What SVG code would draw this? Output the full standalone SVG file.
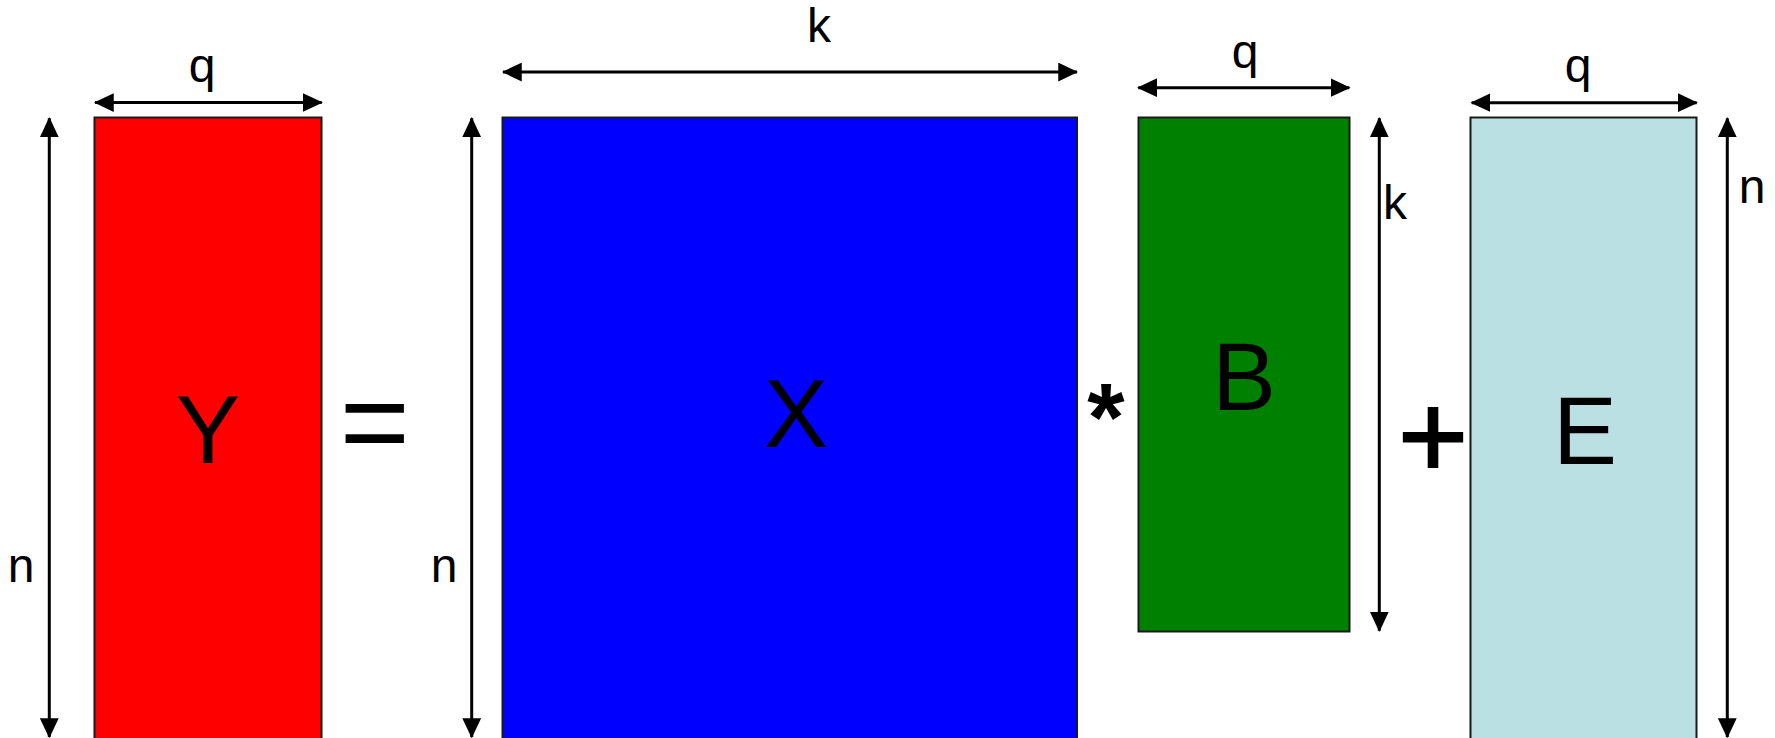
<svg xmlns="http://www.w3.org/2000/svg" width="1775" height="738" viewBox="0 0 1775 738">
  <style>
    .mat { stroke: #1a1a1a; stroke-width: 2; }
    .big { font-family: "Liberation Sans", Arial, sans-serif; font-size: 96px; fill: #000; text-anchor: middle; }
    .dim { font-family: "Liberation Sans", Arial, sans-serif; font-size: 48px; fill: #000; text-anchor: middle; }
    .op { font-family: "Liberation Sans", Arial, sans-serif; font-size: 120px; fill: #000; text-anchor: middle; }
    .arr { stroke: #000; stroke-width: 3; fill: none; marker-start: url(#head); marker-end: url(#head); }
  </style>
  <defs>
    <marker id="head" viewBox="0 0 16 15" refX="15" refY="7.5" markerUnits="userSpaceOnUse" markerWidth="20" markerHeight="19" orient="auto-start-reverse">
      <path d="M0,0 L16,7.5 L0,15 Z" fill="#000"/>
    </marker>
  </defs>

  <g id="Y">
    <rect class="mat" x="94.5" y="117.5" width="227" height="625" fill="#FF0000"/>
    <text class="big" x="208" y="462.7">Y</text>
  </g>
  <g id="X">
    <rect class="mat" x="502.5" y="117.5" width="574.5" height="625" fill="#0000FF"/>
    <text class="big" x="796" y="447.3">X</text>
  </g>
  <g id="B">
    <rect class="mat" x="1138.5" y="117.5" width="211" height="514" fill="#008000"/>
    <text class="big" x="1244" y="410">B</text>
  </g>
  <g id="E">
    <rect class="mat" x="1470.5" y="117.5" width="226" height="625" fill="#BBE0E3"/>
    <text class="big" x="1585" y="464">E</text>
  </g>

  <g id="operators">
    <text class="op" x="374.7" y="463">=</text>
    <text class="op" x="1106" y="450" style="font-size:96px;font-weight:bold">*</text>
    <text class="op" x="1433" y="478" stroke="#000" stroke-width="2">+</text>
  </g>

  <g id="connectors">
    <line class="arr" x1="95" y1="102.5" x2="321.7" y2="102.5"/>
    <line class="arr" x1="49.3" y1="118.3" x2="49.3" y2="737"/>
    <line class="arr" x1="471.7" y1="118.3" x2="471.7" y2="737"/>
    <line class="arr" x1="503" y1="72" x2="1077" y2="72"/>
    <line class="arr" x1="1138.3" y1="87.7" x2="1349.3" y2="87.7"/>
    <line class="arr" x1="1379.3" y1="118.3" x2="1379.3" y2="630.7"/>
    <line class="arr" x1="1471.7" y1="102.7" x2="1696.7" y2="102.7"/>
    <line class="arr" x1="1727.3" y1="118.3" x2="1727.3" y2="737"/>
  </g>

  <g id="dimension-labels">
    <text class="dim" x="202" y="81.7">q</text>
    <text class="dim" x="21" y="581.7">n</text>
    <text class="dim" x="444" y="581.7">n</text>
    <text class="dim" x="819" y="41.7">k</text>
    <text class="dim" x="1245" y="68.3">q</text>
    <text class="dim" x="1383" y="219" style="text-anchor:start">k</text>
    <text class="dim" x="1578" y="81.7">q</text>
    <text class="dim" x="1752" y="203.3">n</text>
  </g>
</svg>
